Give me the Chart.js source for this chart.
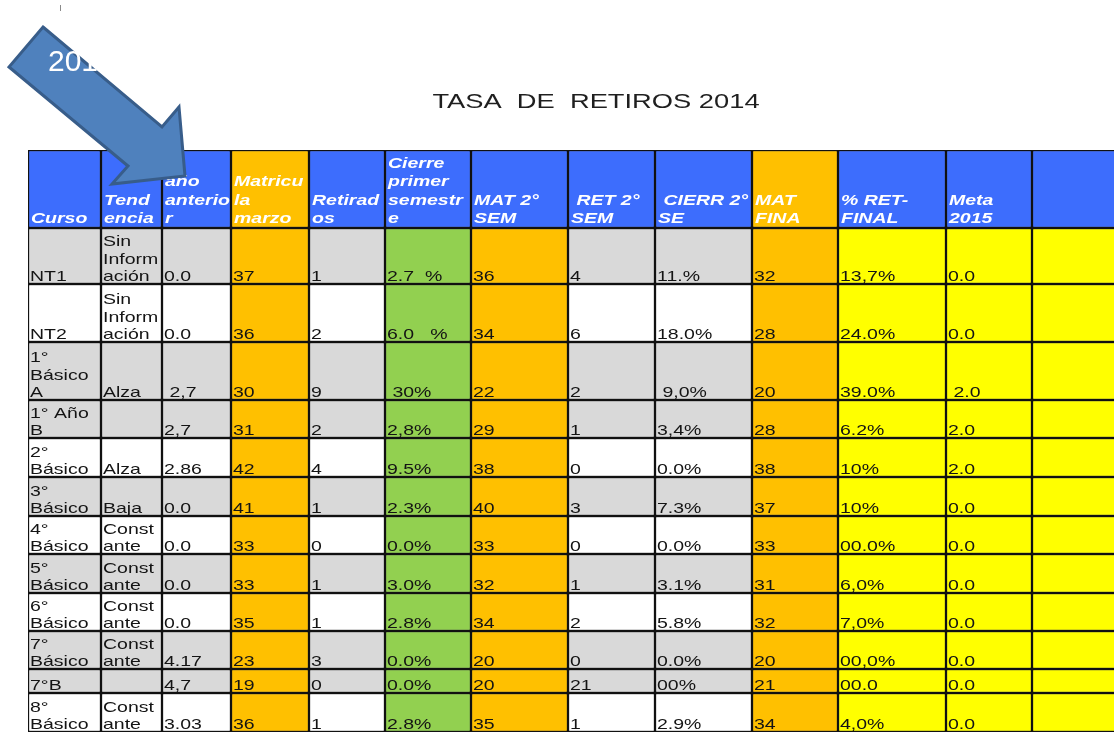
<!DOCTYPE html>
<html><head><meta charset="utf-8">
<script src="https://cdn.jsdelivr.net/npm/chart.js@4.4.0/dist/chart.umd.min.js"></script>
<style>html,body{margin:0;padding:0;background:#fff}#wrap{width:1114px;height:736px;position:relative}</style>
</head><body><div id="wrap"><canvas id="c"></canvas></div>
<script>
// ---------- DATA ----------
const title = 'TASA  DE  RETIROS 2014';
const arrowLabel = '2014';
const headers = ['Curso', 'Tend\nencia', 'año\nanterio\nr', 'Matricu\nla\nmarzo', 'Retirad\nos', 'Cierre\nprimer\nsemestr\ne', 'MAT 2°\nSEM', ' RET 2°\nSEM', ' CIERR 2°\nSE', 'MAT\nFINA', '% RET-\nFINAL', 'Meta\n2015', ''];
const cursos = ['NT1', 'NT2', '1°\nBásico\nA', '1° Año\nB', '2°\nBásico', '3°\nBásico', '4°\nBásico', '5°\nBásico', '6°\nBásico', '7°\nBásico', '7°B', '8°\nBásico'];
const tendencia = ['Sin\nInform\nación', 'Sin\nInform\nación', 'Alza', '', 'Alza', 'Baja', 'Const\nante', 'Const\nante', 'Const\nante', 'Const\nante', '', 'Const\nante'];
const anioAnterior = ['0.0', '0.0', ' 2,7', '2,7', '2.86', '0.0', '0.0', '0.0', '0.0', '4.17', '4,7', '3.03'];
const matriculaMarzo = [37, 36, 30, 31, 42, 41, 33, 33, 35, 23, 19, 36];
const retirados = [1, 2, 9, 2, 4, 1, 0, 1, 1, 3, 0, 1];
const cierrePrimerSem = ['2.7  %', '6.0   %', ' 30%', '2,8%', '9.5%', '2.3%', '0.0%', '3.0%', '2.8%', '0.0%', '0.0%', '2.8%'];
const mat2Sem = [36, 34, 22, 29, 38, 40, 33, 32, 34, 20, 20, 35];
const ret2Sem = [4, 6, 2, 1, 0, 3, 0, 1, 2, 0, 21, 1];
const cierre2Sem = ['11.%', '18.0%', ' 9,0%', '3,4%', '0.0%', '7.3%', '0.0%', '3.1%', '5.8%', '0.0%', '00%', '2.9%'];
const matFinal = [32, 28, 20, 28, 38, 37, 33, 31, 32, 20, 21, 34];
const retFinal = ['13,7%', '24.0%', '39.0%', '6.2%', '10%', '10%', '00.0%', '6,0%', '7,0%', '00,0%', '00.0', '4,0%'];
const meta2015 = ['0.0', '0.0', ' 2.0', '2.0', '2.0', '0.0', '0.0', '0.0', '0.0', '0.0', '0.0', '0.0'];
const extraCol = ['', '', '', '', '', '', '', '', '', '', '', ''];

// ---------- LAYOUT / STYLE ----------
const colWidths = [73, 61, 69, 78, 76, 86, 97, 87, 97, 86, 108, 86, 120];
const rowHeights = [78, 56, 58, 58, 38, 39, 39, 38, 39, 38, 38, 24, 39];
const rowShade = ['h', 'g', 'w', 'g', 'g', 'w', 'g', 'w', 'g', 'w', 'g', 'g', 'w'];
const C = { blue: '#3d6dfd', orange: '#ffc000', green: '#92d050', yellow: '#ffff00', gray: '#d9d9d9', white: '#ffffff' };
const orangeCols = [3, 6, 9], headerOrange = [3, 9], greenCols = [5], yellowCols = [10, 11, 12];
const XSTRETCH = 1.3;

const columns = [cursos, tendencia, anioAnterior, matriculaMarzo, retirados, cierrePrimerSem, mat2Sem, ret2Sem, cierre2Sem, matFinal, retFinal, meta2015, extraCol];
const colEdges = [0]; colWidths.forEach(w => colEdges.push(colEdges[colEdges.length - 1] + w));
const rowEdges = [0]; rowHeights.forEach(h => rowEdges.push(rowEdges[rowEdges.length - 1] + h));
const rowsText = [headers].concat(cursos.map((_, i) => columns.map(col => String(col[i]))));

function cellColor(r, c) {
  if (r === 0) return headerOrange.includes(c) ? C.orange : C.blue;
  if (orangeCols.includes(c)) return C.orange;
  if (greenCols.includes(c)) return C.green;
  if (yellowCols.includes(c)) return C.yellow;
  return rowShade[r] === 'g' ? C.gray : C.white;
}

const datasets = rowsText.map((cells, r) => ({
  data: cells.map((_, c) => ({ x: [colEdges[c], colEdges[c + 1]], y: (rowEdges[r] + rowEdges[r + 1]) / 2 })),
  barThickness: rowHeights[r],
  backgroundColor: cells.map((_, c) => cellColor(r, c)),
  borderColor: '#111111',
  borderWidth: 1.5,
  borderSkipped: false,
  grouped: false
}));

function stretchText(ctx, txt, x, y) {
  ctx.save(); ctx.translate(x, y); ctx.scale(XSTRETCH, 1); ctx.fillText(txt, 0, 0); ctx.restore();
}

const tablePlugin = {
  id: 'tableText',
  afterDatasetsDraw(chart) {
    const ctx = chart.ctx;
    chart.data.datasets.forEach((ds, r) => {
      const meta = chart.getDatasetMeta(r);
      meta.data.forEach((el, c) => {
        const txt = rowsText[r][c];
        if (!txt) return;
        const left = Math.min(el.x, el.base);
        const bottom = el.y + el.height / 2;
        const header = r === 0;
        ctx.save();
        ctx.font = header ? 'italic bold 15px "Liberation Sans", Arial, sans-serif' : '15px "Liberation Sans", Arial, sans-serif';
        ctx.fillStyle = header ? '#ffffff' : '#141414';
        ctx.textBaseline = 'alphabetic';
        const lines = txt.split('\n');
        const lh = header ? 18.5 : 17.5;
        lines.forEach((ln, k) => {
          const y = bottom - (header ? 5 : 3) - (lines.length - 1 - k) * lh;
          stretchText(ctx, ln, left + (header ? 3 : 2), y);
        });
        ctx.restore();
      });
    });
  },
  afterDraw(chart) {
    const ctx = chart.ctx;
    // title
    ctx.save();
    ctx.font = '21px "Liberation Sans", Arial, sans-serif';
    ctx.fillStyle = '#1f1f1f';
    const w = ctx.measureText(title).width * XSTRETCH;
    stretchText(ctx, title, 596 - w / 2, 108);
    ctx.restore();
    // small tick
    ctx.save();
    ctx.strokeStyle = '#8a8a8a'; ctx.lineWidth = 1;
    ctx.beginPath(); ctx.moveTo(60.5, 5); ctx.lineTo(60.5, 11); ctx.stroke();
    ctx.restore();
    // arrow
    ctx.save();
    ctx.beginPath();
    const pts = [[43, 27], [162, 127], [179, 107], [185, 176], [112, 184], [128, 166], [9, 67]];
    pts.forEach((p, i) => i ? ctx.lineTo(p[0], p[1]) : ctx.moveTo(p[0], p[1]));
    ctx.closePath();
    ctx.fillStyle = '#4f81bd'; ctx.fill();
    ctx.lineWidth = 3; ctx.strokeStyle = '#385d8a'; ctx.lineJoin = 'miter'; ctx.stroke();
    ctx.font = '30px "Liberation Sans", Arial, sans-serif';
    ctx.fillStyle = '#ffffff';
    ctx.fillText(arrowLabel, 48, 71);
    ctx.restore();
  }
};

new Chart(document.getElementById('c'), {
  type: 'bar',
  data: { datasets },
  options: {
    indexAxis: 'y',
    responsive: true,
    maintainAspectRatio: false,
    animation: false,
    events: [],
    layout: { padding: { left: 28, top: 150, right: 0, bottom: 4 } },
    scales: {
      x: { type: 'linear', min: 0, max: 1086, display: false, offset: false },
      y: { type: 'linear', min: 0, max: 582, reverse: true, display: false, offset: false }
    },
    plugins: { legend: { display: false }, tooltip: { enabled: false }, title: { display: false } }
  },
  plugins: [tablePlugin]
});
</script>
</body></html>
